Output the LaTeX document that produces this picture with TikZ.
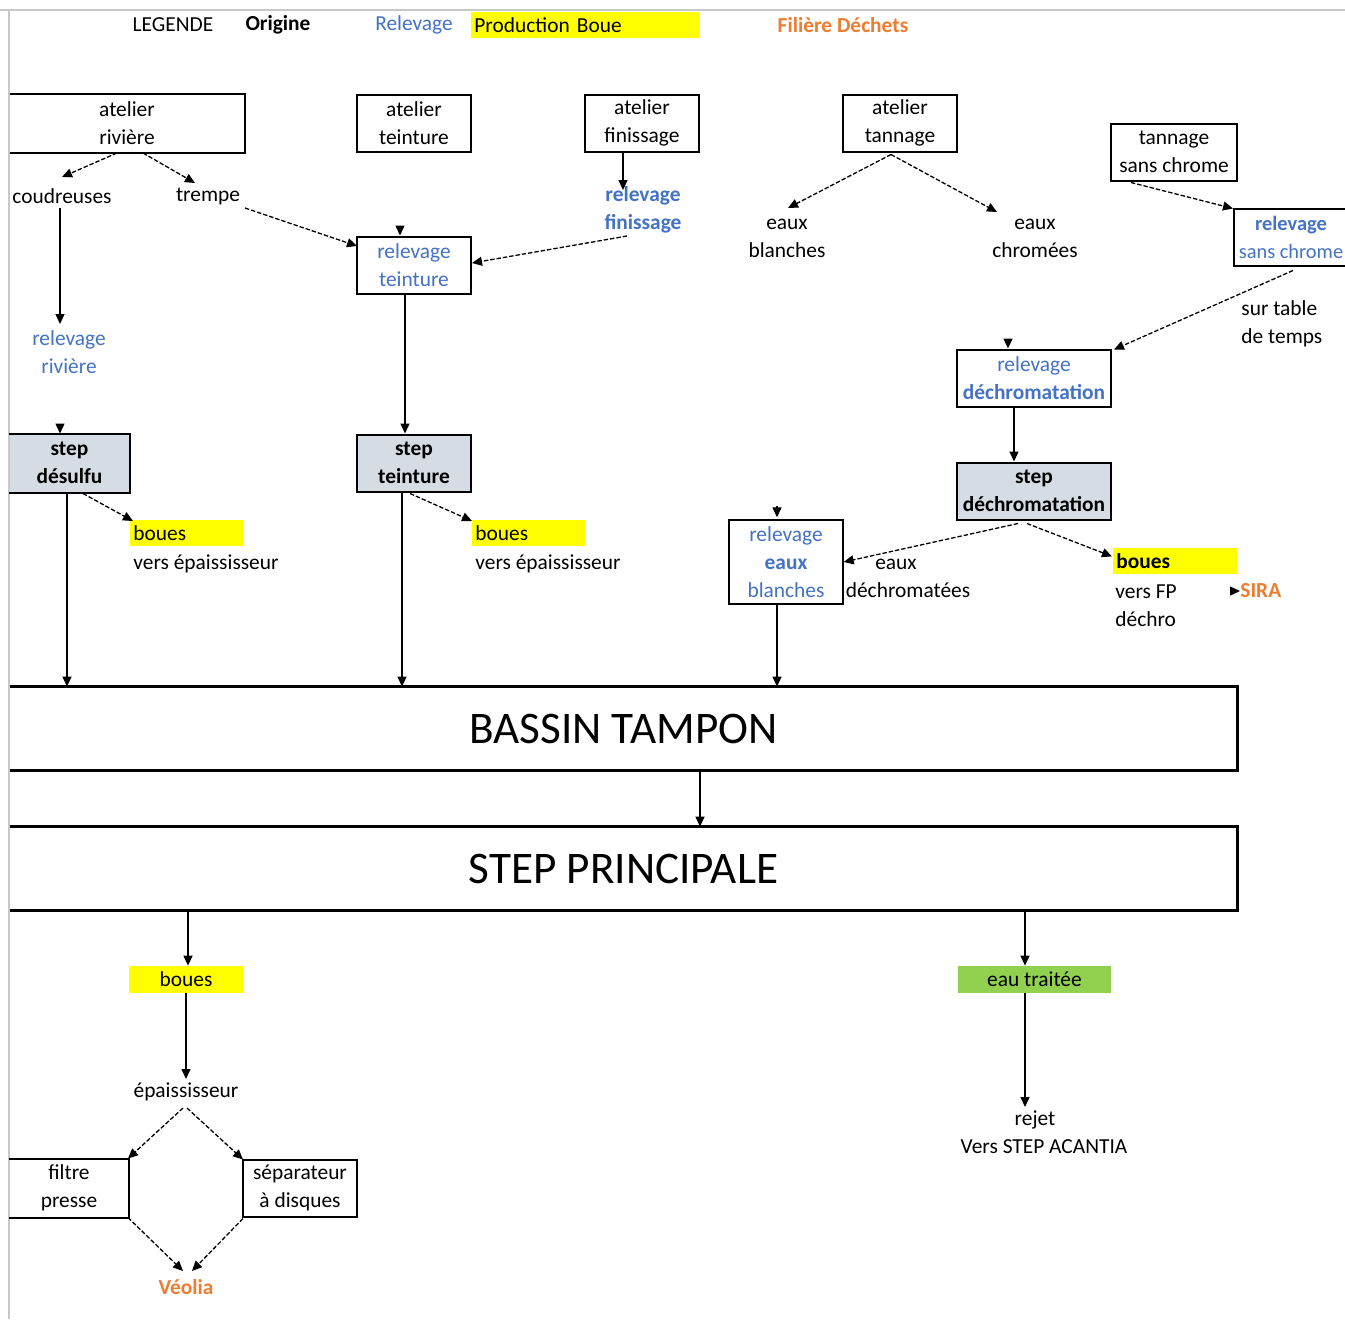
\documentclass[tikz,border=0pt]{standalone}
\usepackage{fontspec}
\setmainfont{Carlito}
\usetikzlibrary{arrows.meta,calc}
\definecolor{relblue}{HTML}{4472C4}
\definecolor{dechorange}{HTML}{ED7D31}
\definecolor{bouyellow}{HTML}{FFFF00}
\definecolor{eaugreen}{HTML}{92D050}
\definecolor{stepgray}{HTML}{D6DCE4}
\definecolor{framegray}{HTML}{C8C8C8}
\newcommand{\fs}{\fontsize{10.7}{14}\selectfont}
\newcommand{\fbig}{\fontsize{22.6}{27}\selectfont}
\begin{document}
\begin{tikzpicture}[x=0.5pt,y=-0.5pt,
  txt/.style={align=center, inner sep=0pt, font=\fs},
  blu/.style={text=relblue},
  box/.style={draw, line width=1pt, minimum width=57pt, minimum height=28.5pt, align=center, inner sep=0pt, font=\fs},
  openbox/.style={box, draw=none},
  stepbox/.style={box, fill=stepgray, font=\fs\bfseries},
  yel/.style={fill=bouyellow, minimum height=13pt, inner xsep=1.5pt, inner ysep=0pt, align=left, font=\fs},
  bigbox/.style={minimum width=613.5pt, minimum height=41.5pt, inner sep=0pt, font=\fbig},
  arr/.style={-{Triangle[length=5pt,width=4.5pt]}, line width=0.65pt},
  dsh/.style={arr, dash pattern=on 2.2pt off 1pt},
  side/.style={line width=1pt}
]
\useasboundingbox (0,0) rectangle (1345,1319);
\fill[white] (0,0) rectangle (1345,1319);
\draw[framegray, line width=0.6pt] (0,10) -- (1345,10);
\draw[framegray, line width=0.6pt] (9,10) -- (9,1319);

% legend
\node[txt] (lg) at (173,25) {LEGENDE};
\node[txt, font=\fs\bfseries] (lo) at (278,25) {Origine};
\node[txt, blu] (lr) at (414,25) {Relevage};
\node[yel, anchor=north west, minimum width=114.5pt, text width=111.5pt] (lp) at (471,12) {Production Boue};
\node[txt, text=dechorange, font=\fs\bfseries] (lf) at (843,25) {Filière Déchets};

% top workshops
\node[openbox, minimum width=116.5pt] (riv) at (127,123) {atelier\\rivière};
\draw[side] (riv.north west) -- (riv.north east) -- (riv.south east) -- (riv.south west);
\node[box] (tein) at (414,123) {atelier\\teinture};
\node[box] (fin) at (642,123) {atelier\\finissage};
\node[box] (tan) at (900,123) {atelier\\tannage};
\node[box, minimum width=63pt] (tsc) at (1174,152) {tannage\\sans chrome};
\node[box, blu, font=\fontsize{10.2}{14}\selectfont] (rsc) at (1291,237) {\textbf{relevage}\\sans chrome};

\node[txt] (coud) at (62,196) {coudreuses};
\node[txt] (trem) at (208,196) {trempe};
\node[txt, blu, font=\fs\bfseries] (rfin) at (643,210) {relevage\\finissage};
\node[box, blu] (rtein) at (414,265) {relevage\\teinture};
\node[txt] (eb) at (787,238) {eaux\\blanches};
\node[txt] (ec) at (1035,238) {eaux\\chromées};
\node[txt, align=left, anchor=west] (stt) at (1241,324) {sur table\\de temps};
\node[txt, blu] (rriv) at (69,352) {relevage\\rivière};
\node[box, blu, minimum width=77pt] (rdec) at (1034,378) {relevage\\\textbf{déchromatation}};

% step boxes
\node[stepbox, draw=none, minimum width=59.5pt] (sdes) at (69.5,463) {step\\désulfu};
\draw[side] (sdes.north west) -- (sdes.north east) -- (sdes.south east) -- (sdes.south west);
\node[stepbox] (stein) at (414,463) {step\\teinture};
\node[stepbox, minimum width=77pt] (sdec) at (1034,491) {step\\déchromatation};

% boues
\node[yel, anchor=north west, minimum width=56.5pt, text width=53.5pt] (b1) at (130,520) {boues};
\node[txt, anchor=west] (v1) at (133,564) {vers épaississeur};
\node[yel, anchor=north west, minimum width=56.5pt, text width=53.5pt] (b2) at (472,520) {boues};
\node[txt, anchor=west] (v2) at (475,564) {vers épaississeur};
\node[box, line width=0.7pt, blu, minimum height=42pt] (reb) at (786,562) {relevage\\\textbf{eaux}\\blanches};
\node[txt] (edec) at (908,578) {\hspace*{-12pt}eaux\\déchromatées};
\node[yel, anchor=north west, minimum width=62pt, text width=59pt, font=\fs\bfseries] (b3) at (1113,548) {boues};
\node[txt, align=left, anchor=west] (vfp) at (1115,606) {vers FP\\déchro};
\node[txt, anchor=west, text=dechorange, font=\fs\bfseries] (sira) at (1240,591) {SIRA};

% big boxes
\node[bigbox] (bt) at (623.5,728.5) {BASSIN TAMPON};
\draw[line width=1.2pt] (bt.north west) -- (bt.north east) -- (bt.south east) -- (bt.south west);
\node[bigbox] (sp) at (623.5,868.5) {STEP PRINCIPALE};
\draw[line width=1.2pt] (sp.north west) -- (sp.north east) -- (sp.south east) -- (sp.south west);

% bottom
\node[yel, minimum width=57pt, minimum height=13.5pt, align=center] (b4) at (186,979.5) {boues};
\node[txt] (ep) at (186,1092) {épaississeur};
\node[openbox, minimum width=59pt] (fp) at (69,1188) {filtre\\presse};
\draw[side] (fp.north west) -- (fp.north east) -- (fp.south east) -- (fp.south west);
\node[box] (sep) at (300,1188) {séparateur\\à disques};
\node[txt, text=dechorange, font=\fs\bfseries] (veo) at (186,1287) {Véolia};
\node[fill=eaugreen, minimum width=76.5pt, minimum height=13.5pt, inner sep=0pt, font=\fs] (et) at (1034.5,979.5) {eau traitée};
\node[txt] (rej) at (1035,1120) {rejet};
\node[txt] (acan) at (1044,1147) {Vers STEP ACANTIA};

% connectors
\draw[dsh] ($(riv)+(-10,30)$) -- ($(coud)+(0,-19)$);
\draw[dsh] ($(riv)+(16,30)$) -- ($(trem)+(-13,-13)$);
\draw[arr] ($(coud)+(-2,12)$) -- ($(rriv)+(-9,-28)$);
\draw[dsh] ($(trem)+(37,12)$) -- ($(rtein)+(-57,-19)$);
\draw[arr] ($(rtein.north)+(-14,-10)$) -- ($(rtein.north)+(-14,0)$);
\draw[arr] ($(fin.south)+(-19,0)$) -- ($(rfin)+(-20,-20)$);
\draw[dsh] ($(rfin)+(-16,26)$) -- ($(rtein.east)+(0,-2)$);
\draw[arr] ($(rtein.south)+(-9,0)$) -- ($(stein.north)+(-9,0)$);
\draw[dsh] ($(tan.south)+(-9,2)$) -- ($(eb)+(1,-30)$);
\draw[dsh] ($(tan.south)+(-9,2)$) -- ($(ec)+(-38,-26)$);
\draw[dsh] ($(tsc.south)+(-43,1)$) -- ($(rsc.north west)+(0,1)$);
\draw[dsh] ($(rsc.south)+(2,4)$) -- ($(rdec.north east)+(2,1)$);
\draw[arr] ($(rdec.north)+(-26,-10)$) -- ($(rdec.north)+(-26,0)$);
\draw[arr] ($(rdec.south)+(-20,0)$) -- ($(sdec.north)+(-20,0)$);
\draw[dsh] ($(sdec.south)+(-16,3)$) -- ($(reb.east)+(0,0)$);
\draw[dsh] ($(sdec.south)+(-7,3)$) -- ($(b3.west)+(-1,-5)$);
\draw[arr] ($(reb.north)+(-9,-13)$) -- ($(reb.north)+(-9,-2)$);
\draw[arr] ($(reb.south)+(-9,0)$) -- ($(bt.north)+(153.5,0)$);
\draw[arr] ($(sdes.north)+(-9.5,-10)$) -- ($(sdes.north)+(-9.5,0)$);
\draw[dsh] ($(sdes.south)+(13.5,1)$) -- ($(b1.north west)+(3,1)$);
\draw[arr] ($(sdes.south)+(-2.5,0)$) -- ($(bt.north)+(-556.5,0)$);
\draw[dsh] ($(stein.south)+(-4,1)$) -- ($(b2.north west)+(0,1)$);
\draw[arr] ($(stein.south)+(-12,0)$) -- ($(bt.north)+(-221.5,0)$);
\draw[arr] ($(bt.south)+(76.5,2)$) -- ($(sp.north)+(76.5,0)$);
\draw[arr] ($(sp.south)+(-435.5,0)$) -- ($(b4.north)+(2,0)$);
\draw[arr] (b4.south) -- ($(ep)+(0,-13)$);
\draw[dsh] ($(ep)+(-3,16)$) -- ($(fp.north east)+(-1,0)$);
\draw[dsh] ($(ep)+(1,16)$) -- ($(sep.north west)+(1,1)$);
\draw[dsh] ($(fp.south east)+(-1,0)$) -- ($(veo)+(-3,-16)$);
\draw[dsh] ($(sep.south west)+(1,1)$) -- ($(veo)+(6,-16)$);
\draw[arr] ($(sp.south)+(401.5,2)$) -- ($(et.north)+(-9.5,0)$);
\draw[arr] ($(et.south)+(-9.5,0)$) -- ($(rej)+(-10,-13)$);
\draw[arr] ($(sira.west)+(-10,0)$) -- (sira.west);
\end{tikzpicture}
\end{document}
